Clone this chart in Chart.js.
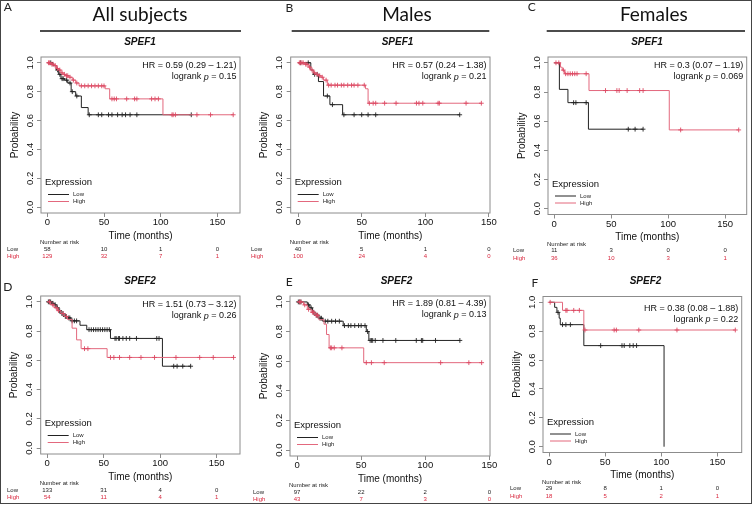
<!DOCTYPE html>
<html>
<head>
<meta charset="utf-8">
<script src="https://cdn.jsdelivr.net/npm/chart.js@4.4.1/dist/chart.umd.min.js"></script>
<style>
  html, body { margin: 0; padding: 0; background: #fff; }
  #fig { position: relative; width: 754px; height: 510px; overflow: hidden; }
  #fig canvas { position: absolute; }
  #frame { position: absolute; left: 0; top: 0; width: 752px; height: 504px; box-sizing: border-box;
           border: 1.5px solid #444; pointer-events: none; }
</style>
</head>
<body>
<div id="fig"><div id="frame"></div></div>
<script>
// axis ticks shared by every panel
const xTicks = [0, 50, 100, 150];
const yTicks = [0, 0.2, 0.4, 0.6, 0.8, 1.0];

// A - all subjects, SPEF1
const aLowTime = [0, 5, 8, 10, 12, 15, 18, 21, 25, 30, 36];
const aLowSurv = [1, 0.98, 0.95, 0.92, 0.89, 0.88, 0.86, 0.80, 0.77, 0.69, 0.64];
const aLowCens = [3, 9, 11, 13, 14, 17, 20, 22, 26, 37, 45, 48, 54, 57, 62, 66, 69, 73, 79, 127];
const aHighTime = [0, 3, 6, 8, 10, 12, 14, 16, 19, 22, 25, 28, 51, 55, 102];
const aHighSurv = [1, 0.99, 0.98, 0.96, 0.95, 0.93, 0.92, 0.91, 0.90, 0.88, 0.86, 0.84, 0.82, 0.75, 0.64];
const aHighCens = [1, 2, 4, 5, 7, 9, 11, 13, 15, 17, 18, 20, 23, 26, 30, 33, 36, 39, 42, 45, 48, 50,
                   57, 59, 61, 70, 77, 79, 92, 95, 98, 110, 111, 113, 132, 144, 164];
const aRiskLow = [58, 10, 1, 0];
const aRiskHigh = [129, 32, 7, 1];
const aStats = ['0.59 (0.29 \u2013 1.21)', '0.15'];

// B - males, SPEF1
const bLowTime = [0, 10, 12, 16, 20, 25, 35];
const bLowSurv = [1, 0.95, 0.92, 0.87, 0.77, 0.71, 0.64];
const bLowCens = [2, 8, 13, 15, 23, 27, 36, 44, 50, 55, 61, 127];
const bHighTime = [0, 5, 8, 10, 12, 14, 16, 18, 20, 23, 53, 55];
const bHighSurv = [1, 0.99, 0.97, 0.95, 0.93, 0.92, 0.91, 0.90, 0.88, 0.845, 0.82, 0.72];
const bHighCens = [1, 2, 3, 4, 6, 7, 9, 11, 13, 15, 17, 19, 22, 24, 26, 29, 31, 34, 36, 39, 42, 44, 47, 52,
                   56, 59, 61, 68, 77, 93, 95, 98, 110, 111, 132, 144];
const bRiskLow = [40, 5, 1, 0];
const bRiskHigh = [100, 24, 4, 0];
const bStats = ['0.57 (0.24 \u2013 1.38)', '0.21'];

// C - females, SPEF1
const cLowTime = [0, 4.5, 12, 30];
const cLowSurv = [1, 0.818, 0.727, 0.545];
const cLowCens = [17, 19, 28, 65, 71, 78];
const cHighTime = [0, 5.5, 7, 9, 30.5, 101];
const cHighSurv = [1, 0.97, 0.95, 0.925, 0.81, 0.54];
const cHighCens = [1.5, 4, 8, 10, 12, 14, 16, 18, 20, 28, 45, 55, 57, 64, 75, 78, 111, 162];
const cRiskLow = [11, 3, 0, 0];
const cRiskHigh = [36, 10, 3, 1];
const cStats = ['0.3 (0.07 \u2013 1.19)', '0.069'];

// D - all subjects, SPEF2
const dLowTime = [0, 4, 6, 8, 10, 12, 15, 18, 21, 29, 35, 56, 102];
const dLowSurv = [1, 0.99, 0.98, 0.96, 0.94, 0.92, 0.90, 0.89, 0.87, 0.84, 0.81, 0.75, 0.56];
const dLowCens = [1, 2, 3, 5, 7, 9, 11, 13, 14, 16, 17, 19, 20, 22, 24, 26, 37, 39, 41, 43, 45, 47, 49, 51, 53, 55,
                  60, 61, 63, 64, 67, 70, 73, 79, 97, 99, 112, 115, 120, 127];
const dHighTime = [0, 3, 6, 9, 12, 15, 18, 22, 26, 30, 53];
const dHighSurv = [1, 0.98, 0.96, 0.94, 0.92, 0.90, 0.88, 0.82, 0.74, 0.68, 0.62];
const dHighCens = [2, 5, 8, 10, 14, 17, 33, 36, 56, 59, 64, 73, 83, 95, 114, 135, 147, 165];
const dRiskLow = [133, 31, 4, 0];
const dRiskHigh = [54, 11, 4, 1];
const dStats = ['1.51 (0.73 \u2013 3.12)', '0.26'];

// E - males, SPEF2
const eLowTime = [0, 8, 10, 12, 14, 17, 20, 36, 54, 56];
const eLowSurv = [1, 0.98, 0.96, 0.93, 0.91, 0.89, 0.87, 0.84, 0.80, 0.74];
const eLowCens = [1, 2, 3, 9, 11, 13, 15, 16, 18, 19, 22, 24, 27, 30, 33, 37, 40, 42, 45, 48, 50, 53, 55,
                  57, 58, 59, 61, 67, 77, 93, 97, 98, 108, 127];
const eHighTime = [0, 5, 8, 11, 14, 17, 21, 23, 25, 52];
const eHighSurv = [1, 0.98, 0.95, 0.93, 0.91, 0.88, 0.85, 0.78, 0.69, 0.59];
const eHighCens = [2, 3, 6, 9, 12, 13, 15, 16, 26, 27, 29, 35, 54, 58, 68, 112, 134, 144];
const eRiskLow = [97, 22, 2, 0];
const eRiskHigh = [43, 7, 3, 0];
const eStats = ['1.89 (0.81 \u2013 4.39)', '0.13'];

// F - females, SPEF2
const fLowTime = [0, 5, 7, 9, 10, 31, 102.5];
const fLowSurv = [1, 0.965, 0.93, 0.89, 0.845, 0.70, 0];
const fLowCens = [8, 12, 15, 19, 46, 65, 67, 72, 75, 78];
const fHighTime = [0, 12, 31];
const fHighSurv = [1, 0.944, 0.808];
const fHighCens = [1, 15, 16, 22, 27, 32, 58, 60, 80, 114, 166];
const fRiskLow = [29, 8, 1, 0];
const fRiskHigh = [18, 5, 2, 1];
const fStats = ['0.38 (0.08 \u2013 1.88)', '0.22'];

const LOW_COLOR = '#222222';
const HIGH_COLOR = '#e3687d';
const HIGH_MARK = '#dc4a63';
const RISK_RED = '#d9283f';
const AXIS_GRAY = '#8c8c8c';
const RFONT = '"Liberation Sans", Arial, Helvetica, sans-serif';
const TFONT = 'Lato, "Open Sans", sans-serif';
const X_AXIS_H = 20;

const panels = [
  { letter: 'A', letterAt: [7.8, 7.5], cell: [0, 0, 250, 262], box: { l: 41, t: 57, r: 240, b: 213 }, xr: [-5.6, 170],
    title: 'All subjects', titleX: 140, rule: [40, 241], gene: 'SPEF1', geneX: 140, riskX: 7, hrDy: 9,
    low: { time: aLowTime, surv: aLowSurv, cens: aLowCens, risk: aRiskLow },
    high: { time: aHighTime, surv: aHighSurv, cens: aHighCens, risk: aRiskHigh }, stats: aStats },
  { letter: 'B', letterAt: [289.3, 8.3], cell: [250, 0, 250, 262], box: { l: 290.7, t: 57, r: 490, b: 213 }, xr: [-5.8, 150.8],
    title: 'Males', titleX: 407, rule: [291.7, 489.3], gene: 'SPEF1', geneX: 397.5, riskX: 251, hrDy: 9,
    low: { time: bLowTime, surv: bLowSurv, cens: bLowCens, risk: bRiskLow },
    high: { time: bHighTime, surv: bHighSurv, cens: bHighCens, risk: bRiskHigh }, stats: bStats },
  { letter: 'C', letterAt: [531.7, 7.5], cell: [500, 0, 254, 262], box: { l: 548, t: 57, r: 746.7, b: 214.5 }, xr: [-5.5, 169],
    title: 'Females', titleX: 653.8, rule: [546.7, 745], gene: 'SPEF1', geneX: 647, riskX: 513, hrDy: 9,
    low: { time: cLowTime, surv: cLowSurv, cens: cLowCens, risk: cRiskLow },
    high: { time: cHighTime, surv: cHighSurv, cens: cHighCens, risk: cRiskHigh }, stats: cStats },
  { letter: 'D', letterAt: [7.8, 287.5], cell: [0, 262, 250, 248], box: { l: 40.7, t: 296, r: 240, b: 454 }, xr: [-5.8, 170.7],
    gene: 'SPEF2', geneX: 140, riskX: 7, hrDy: 9,
    low: { time: dLowTime, surv: dLowSurv, cens: dLowCens, risk: dRiskLow },
    high: { time: dHighTime, surv: dHighSurv, cens: dHighCens, risk: dRiskHigh }, stats: dStats },
  { letter: 'E', letterAt: [289.3, 282.5], cell: [250, 262, 250, 248], box: { l: 290, t: 296, r: 490, b: 456 }, xr: [-5.5, 150.5],
    gene: 'SPEF2', geneX: 396.5, riskX: 253, hrDy: 8,
    low: { time: eLowTime, surv: eLowSurv, cens: eLowCens, risk: eRiskLow },
    high: { time: eHighTime, surv: eHighSurv, cens: eHighCens, risk: eRiskHigh }, stats: eStats },
  { letter: 'F', letterAt: [535, 283.3], cell: [500, 262, 254, 248], box: { l: 543, t: 296.5, r: 741.7, b: 452.5 }, xr: [-5.4, 171.7],
    gene: 'SPEF2', geneX: 645.5, riskX: 510, hrDy: 12,
    low: { time: fLowTime, surv: fLowSurv, cens: fLowCens, risk: fRiskLow },
    high: { time: fHighTime, surv: fHighSurv, cens: fHighCens, risk: fRiskHigh }, stats: fStats }
];

// value of a KM step function at time t
function survAt(g, t) {
  let s = g.surv[0];
  for (let i = 0; i < g.time.length; i++) {
    if (g.time[i] <= t) s = g.surv[i];
  }
  return s;
}

function stepPoints(g) {
  const pts = g.time.map((t, i) => ({ x: t, y: g.surv[i] }));
  const end = Math.max(...g.cens);
  if (end > g.time[g.time.length - 1]) pts.push({ x: end, y: g.surv[g.surv.length - 1] });
  return pts;
}

function censorPoints(g) {
  return g.cens.map(t => ({ x: t, y: survAt(g, t) }));
}

function text(ctx, s, x, y, font, color, align, base) {
  ctx.font = font;
  ctx.fillStyle = color;
  ctx.textAlign = align || 'center';
  ctx.textBaseline = base || 'middle';
  ctx.fillText(s, x, y);
}

// everything R draws around the plot region
function makeDecor(p) {
  return {
    id: 'decor' + p.letter,
    afterDraw(chart) {
      const ctx = chart.ctx;
      const a = chart.chartArea;
      const xs = chart.scales.x;
      const ys = chart.scales.y;
      const ox = p.cell[0], oy = p.cell[1];
      ctx.save();

      // plot box
      ctx.strokeStyle = AXIS_GRAY;
      ctx.lineWidth = 1;
      ctx.strokeRect(a.left, a.top, a.width, a.height);

      // y tick labels, parallel to the axis
      yTicks.forEach(v => {
        ctx.save();
        ctx.translate(a.left - 11, ys.getPixelForValue(v));
        ctx.rotate(-Math.PI / 2);
        text(ctx, v.toFixed(1), 0, 0, '9.5px ' + RFONT, '#111');
        ctx.restore();
      });

      // axis titles
      ctx.save();
      ctx.translate(a.left - 26, (a.top + a.bottom) / 2);
      ctx.rotate(-Math.PI / 2);
      text(ctx, 'Probability', 0, 0, '10px ' + RFONT, '#111');
      ctx.restore();
      text(ctx, 'Time (months)', (a.left + a.right) / 2, a.bottom + 23, '10px ' + RFONT, '#111');

      // hazard ratio and logrank p
      const hrFont = '9px ' + RFONT;
      text(ctx, 'HR = ' + p.stats[0], a.right - 3.5, a.top + p.hrDy, hrFont, '#111', 'right');
      ctx.font = hrFont;
      const tail = ' = ' + p.stats[1];
      const wTail = ctx.measureText(tail).width;
      ctx.font = 'italic ' + hrFont;
      const wP = ctx.measureText('p').width;
      const yL = a.top + p.hrDy + 11;
      text(ctx, tail, a.right - 3.5, yL, hrFont, '#111', 'right');
      text(ctx, 'p', a.right - 3.5 - wTail, yL, 'italic ' + hrFont, '#111', 'right');
      text(ctx, 'logrank ', a.right - 3.5 - wTail - wP, yL, hrFont, '#111', 'right');

      // legend
      text(ctx, 'Expression', a.left + 4, a.bottom - 30.5, '9.5px ' + RFONT, '#111', 'left');
      [['Low', LOW_COLOR, 18.5], ['High', HIGH_COLOR, 11.5]].forEach(([name, col, dy]) => {
        ctx.strokeStyle = col;
        ctx.lineWidth = 1;
        ctx.beginPath();
        ctx.moveTo(a.left + 7, a.bottom - dy);
        ctx.lineTo(a.left + 28, a.bottom - dy);
        ctx.stroke();
        text(ctx, name, a.left + 32, a.bottom - dy, '6px ' + RFONT, '#222', 'left');
      });

      // numbers at risk
      text(ctx, 'Number at risk', a.left - 1, a.bottom + 29.5, '6px ' + RFONT, '#222', 'left');
      text(ctx, 'Low', p.riskX - ox, a.bottom + 36, '6px ' + RFONT, '#222', 'left');
      text(ctx, 'High', p.riskX - ox, a.bottom + 43.5, '6px ' + RFONT, RISK_RED, 'left');
      xTicks.forEach((v, i) => {
        const x = xs.getPixelForValue(v);
        text(ctx, String(p.low.risk[i]), x, a.bottom + 36, '6px ' + RFONT, '#222');
        text(ctx, String(p.high.risk[i]), x, a.bottom + 43.5, '6px ' + RFONT, RISK_RED);
      });

      // gene name above the box
      text(ctx, p.gene, p.geneX - ox, a.top - 14.8, 'italic bold 10px ' + RFONT, '#111');

      // column title with rule (top row)
      if (p.title) {
        text(ctx, p.title, p.titleX - ox, 15 - oy, '19px ' + TFONT, '#111');
        ctx.strokeStyle = '#111';
        ctx.lineWidth = 1.6;
        ctx.beginPath();
        ctx.moveTo(p.rule[0] - ox, 31 - oy);
        ctx.lineTo(p.rule[1] - ox, 31 - oy);
        ctx.stroke();
      }

      // panel letter
      text(ctx, p.letter, p.letterAt[0] - ox, p.letterAt[1] - oy, '12px ' + TFONT, '#222');
      ctx.restore();
    }
  };
}

const fig = document.getElementById('fig');
panels.forEach(p => {
  const [cx, cy, cw, ch] = p.cell;
  const canvas = document.createElement('canvas');
  canvas.width = cw;
  canvas.height = ch;
  canvas.style.left = cx + 'px';
  canvas.style.top = cy + 'px';
  canvas.style.width = cw + 'px';
  canvas.style.height = ch + 'px';
  fig.insertBefore(canvas, document.getElementById('frame'));

  const markStyle = col => ({
    showLine: false, pointStyle: 'cross', pointRadius: 2.4, pointBorderWidth: 0.9,
    pointBorderColor: col, borderColor: col, backgroundColor: col
  });

  new Chart(canvas, {
    type: 'line',
    data: {
      datasets: [
        Object.assign({ label: 'High censored', data: censorPoints(p.high) }, markStyle(HIGH_MARK)),
        { label: 'High', data: stepPoints(p.high), stepped: 'before', borderColor: HIGH_COLOR, borderWidth: 1, pointRadius: 0, fill: false },
        Object.assign({ label: 'Low censored', data: censorPoints(p.low) }, markStyle(LOW_COLOR)),
        { label: 'Low', data: stepPoints(p.low), stepped: 'before', borderColor: LOW_COLOR, borderWidth: 1, pointRadius: 0, fill: false }
      ]
    },
    options: {
      responsive: false,
      animation: false,
      events: [],
      layout: {
        autoPadding: false,
        padding: { left: p.box.l - cx, top: p.box.t - cy, right: cx + cw - p.box.r, bottom: cy + ch - p.box.b - X_AXIS_H }
      },
      plugins: { legend: { display: false }, tooltip: { enabled: false } },
      scales: {
        x: {
          type: 'linear', min: p.xr[0], max: p.xr[1],
          afterBuildTicks: s => { s.ticks = xTicks.map(v => ({ value: v })); },
          afterFit: s => { s.height = X_AXIS_H; },
          grid: { drawOnChartArea: false, drawTicks: true, tickLength: 4, color: AXIS_GRAY },
          border: { display: false },
          ticks: { padding: 0, maxRotation: 0, autoSkip: false, color: '#111', font: { family: RFONT, size: 9.5 } }
        },
        y: {
          type: 'linear', min: -0.04, max: 1.04,
          afterBuildTicks: s => { s.ticks = yTicks.map(v => ({ value: v })); },
          afterFit: s => { s.width = 0; },
          grid: { drawOnChartArea: false, drawTicks: true, tickLength: 4, color: AXIS_GRAY },
          border: { display: false },
          ticks: { display: false }
        }
      }
    },
    plugins: [makeDecor(p)]
  });
});
</script>
</body>
</html>
